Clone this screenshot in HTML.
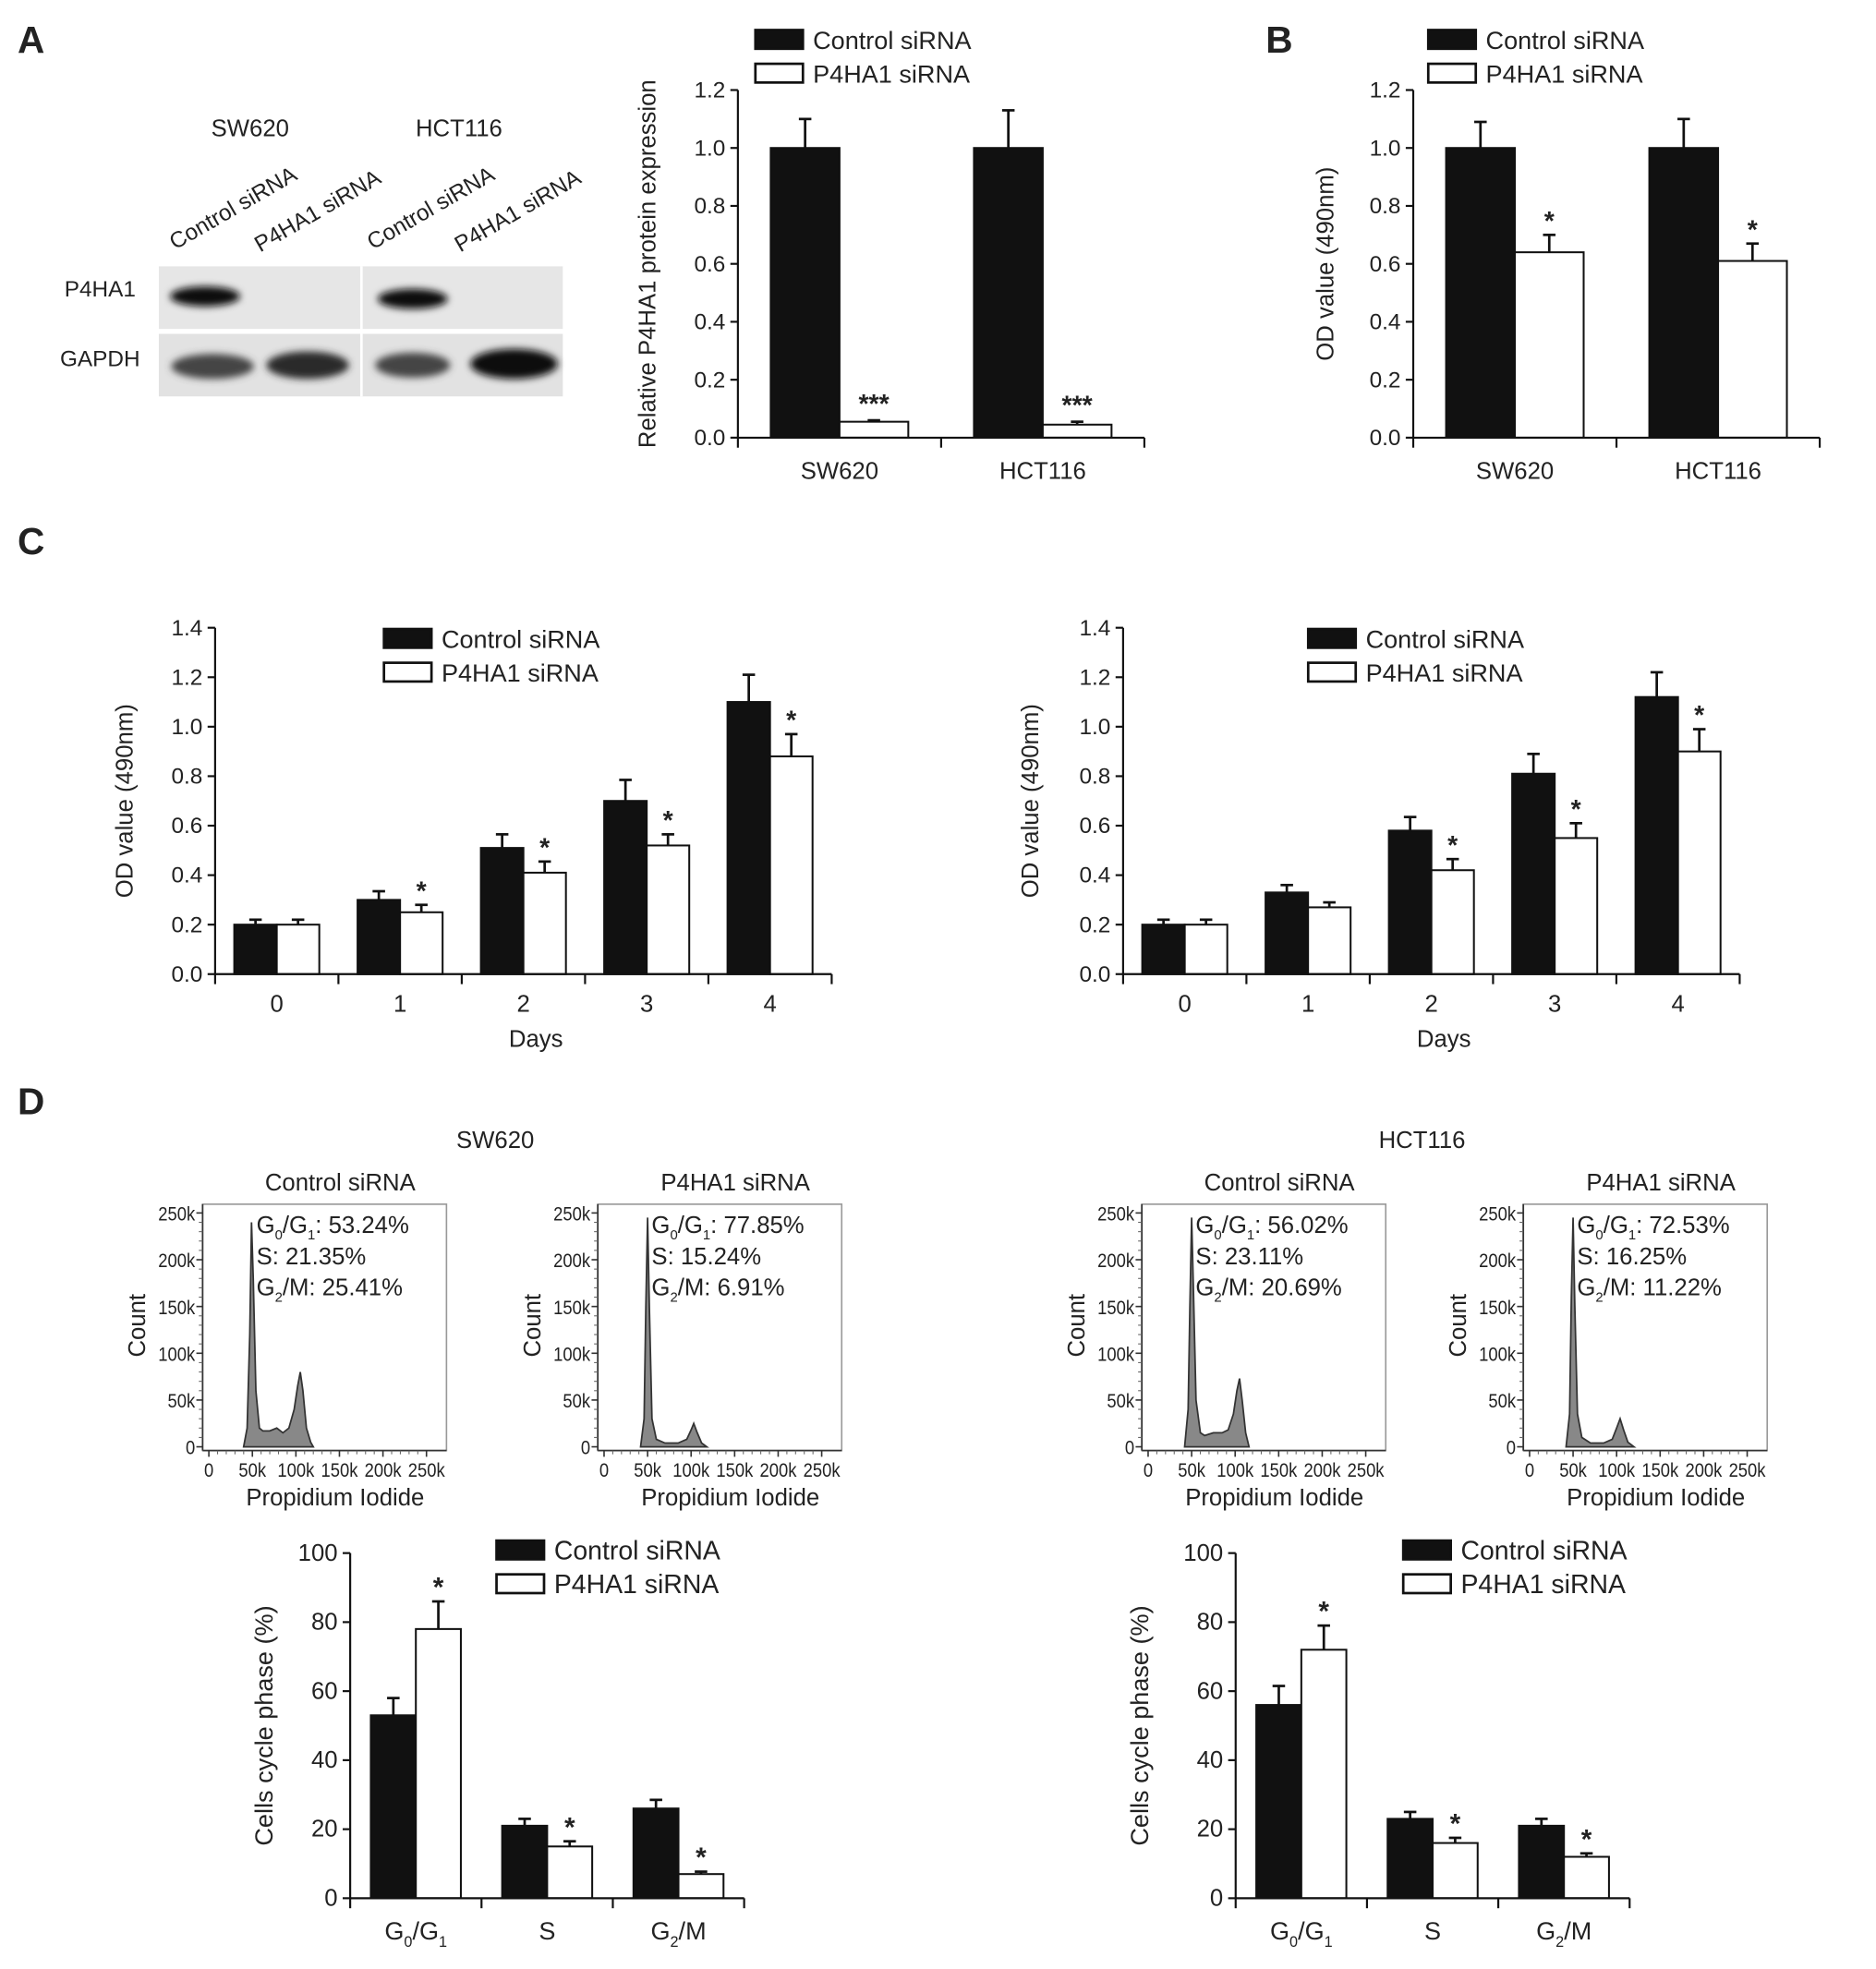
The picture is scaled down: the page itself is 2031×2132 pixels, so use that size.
<!DOCTYPE html>
<html><head><meta charset="utf-8">
<style>
html,body{margin:0;padding:0;background:#fff;}
svg{display:block;}
text{font-family:"Liberation Sans",Arial,sans-serif;fill:#222;}
</style></head>
<body>
<svg id="fig" width="2031" height="2132" viewBox="0 0 1500 1574.6" preserveAspectRatio="none" xmlns="http://www.w3.org/2000/svg">
<defs><filter id="blur" x="-30%" y="-60%" width="160%" height="220%"><feGaussianBlur stdDeviation="3"/></filter></defs>
<g>
<text x="14" y="42" font-size="30" font-weight="bold">A</text>
<text x="1012" y="42" font-size="30" font-weight="bold">B</text>
<text x="14" y="443" font-size="30" font-weight="bold">C</text>
<text x="14" y="891" font-size="30" font-weight="bold">D</text>
</g>
<g>
<text x="200" y="109" font-size="19" text-anchor="middle">SW620</text>
<text x="367" y="109" font-size="19" text-anchor="middle">HCT116</text>
<text transform="translate(140,200) rotate(-30)" font-size="18">Control siRNA</text>
<text transform="translate(208,202) rotate(-30)" font-size="18">P4HA1 siRNA</text>
<text transform="translate(298,200) rotate(-30)" font-size="18">Control siRNA</text>
<text transform="translate(368,202) rotate(-30)" font-size="18">P4HA1 siRNA</text>
<text x="80" y="237" font-size="18" text-anchor="middle">P4HA1</text>
<text x="80" y="293" font-size="18" text-anchor="middle">GAPDH</text>
<rect x="127" y="213" width="323" height="50" fill="#e6e6e6"/>
<rect x="127" y="267" width="323" height="50" fill="#e2e2e2"/>
<rect x="288" y="213" width="2" height="104" fill="#fff"/>
<g filter="url(#blur)">
<ellipse cx="164" cy="237" rx="28" ry="8" fill="#111"/>
<ellipse cx="330" cy="239" rx="28" ry="8" fill="#111"/>
<ellipse cx="170" cy="293" rx="33" ry="10" fill="#444"/>
<ellipse cx="246" cy="292" rx="33" ry="11" fill="#2a2a2a"/>
<ellipse cx="330" cy="292" rx="30" ry="10" fill="#444"/>
<ellipse cx="411" cy="291" rx="35" ry="12" fill="#111"/>
</g>
</g>
<g id="charts"></g>
</svg>
<script>
// Panel A chart
const aCats = ["SW620", "HCT116"];
const aCtrl = [1.0, 1.0];
const aCtrlErr = [0.10, 0.13];
const aSi = [0.055, 0.045];
const aSiErr = [0.005, 0.01];
const aSiStars = ["***", "***"];
const aTicks = ["0.0", "0.2", "0.4", "0.6", "0.8", "1.0", "1.2"];
// Panel B
const bCats = ["SW620", "HCT116"];
const bCtrl = [1.0, 1.0];
const bCtrlErr = [0.09, 0.10];
const bSi = [0.64, 0.61];
const bSiErr = [0.06, 0.06];
const bSiStars = ["*", "*"];
const bTicks = ["0.0", "0.2", "0.4", "0.6", "0.8", "1.0", "1.2"];
// Panel C
const cCats = ["0", "1", "2", "3", "4"];
const cTicks = ["0.0", "0.2", "0.4", "0.6", "0.8", "1.0", "1.2", "1.4"];
const c1Ctrl = [0.20, 0.30, 0.51, 0.70, 1.10];
const c1CtrlErr = [0.02, 0.035, 0.055, 0.085, 0.11];
const c1Si = [0.20, 0.25, 0.41, 0.52, 0.88];
const c1SiErr = [0.02, 0.03, 0.045, 0.045, 0.09];
const c1Stars = ["", "*", "*", "*", "*"];
const c2Ctrl = [0.20, 0.33, 0.58, 0.81, 1.12];
const c2CtrlErr = [0.02, 0.03, 0.055, 0.08, 0.10];
const c2Si = [0.20, 0.27, 0.42, 0.55, 0.90];
const c2SiErr = [0.02, 0.02, 0.045, 0.06, 0.09];
const c2Stars = ["", "", "*", "*", "*"];
// Panel D bars
const dCats = ["G0/G1", "S", "G2/M"];
const dTicks = ["0", "20", "40", "60", "80", "100"];
const d1Ctrl = [53, 21, 26];
const d1CtrlErr = [5, 2, 2.5];
const d1Si = [78, 15, 7];
const d1SiErr = [8, 1.5, 0.7];
const d1Stars = ["*", "*", "*"];
const d2Ctrl = [56, 23, 21];
const d2CtrlErr = [5.5, 2, 2];
const d2Si = [72, 16, 12];
const d2SiErr = [7, 1.5, 1];
const d2Stars = ["*", "*", "*"];
// Histograms (PI in k, count in k)
const h1PI = [40,44,47,49,51,54,58,62,70,78,85,92,98,102,105,108,112,117,120];
const h1Count = [0,20,120,240,180,60,20,17,17,20,15,20,40,65,80,60,20,5,0];
const h2PI = [42,46,48,50,52,55,60,70,85,95,100,103,107,112,118];
const h2Count = [0,30,150,245,150,30,8,4,4,8,18,25,15,4,0];
const h3PI = [42,46,48,50,52,55,60,65,75,85,92,98,102,105,108,112,116];
const h3Count = [0,40,150,245,170,50,15,12,15,15,18,35,60,73,50,15,0];
const h4PI = [42,46,48,50,52,55,60,70,85,95,100,104,108,113,120];
const h4Count = [0,35,160,245,150,35,10,4,4,8,20,30,18,5,0];
const hTicks = ["0","50k","100k","150k","200k","250k"];

const NS = "http://www.w3.org/2000/svg";
const root = document.getElementById("charts");
function mk(tag, attrs, parent, txt) {
  const e = document.createElementNS(NS, tag);
  for (const k in attrs) e.setAttribute(k, attrs[k]);
  if (txt !== undefined) e.textContent = txt;
  (parent || root).appendChild(e);
  return e;
}
function catLabel(g, x, y, s, fs) {
  const t = mk("text", {x: x, y: y, "font-size": fs, "text-anchor": "middle"}, g);
  if (s === "G0/G1") {
    t.appendChild(document.createTextNode("G"));
    mk("tspan", {dy: 6, "font-size": fs * 0.6}, t, "0");
    mk("tspan", {dy: -6}, t, "/G");
    mk("tspan", {dy: 6, "font-size": fs * 0.6}, t, "1");
  } else if (s === "G2/M") {
    t.appendChild(document.createTextNode("G"));
    mk("tspan", {dy: 6, "font-size": fs * 0.6}, t, "2");
    mk("tspan", {dy: -6}, t, "/M");
  } else t.textContent = s;
  return t;
}
function barChart(o) {
  const g = mk("g", {});
  
  
  const n = o.cats.length;
  const step = o.w / n;
  const yS = v => o.y0 - (v / o.max) * o.h;
  const xC = i => o.x0 + step * (i + 0.5);
  for (let i = 0; i < n; i++) {
    const c = xC(i);
    const sets = [[o.ctrl, o.ctrlErr, "#111", c - o.bw, "bar-control"], [o.si, o.siErr, "#fff", c, "bar-p4ha1"]];
    sets.forEach(s => {
      const v = s[0][i], e = s[1][i];
      const bx = s[3], cx = bx + o.bw / 2;
      const ln = mk("line", {x1: cx, x2: cx, y1: yS(v), y2: yS(v + e), stroke: "#111", "stroke-width": 2}, g);
      
      
      const cap = mk("line", {x1: cx - 5, x2: cx + 5, y1: yS(v + e), y2: yS(v + e), stroke: "#111", "stroke-width": 2}, g);
      
      
      const r = mk("rect", {x: bx, y: yS(v), width: o.bw, height: o.y0 - yS(v), fill: s[2], stroke: "#111", "stroke-width": 1.5}, g);
      
      
    });
    if (o.stars[i]) {
      const st = mk("text", {x: c + o.bw / 2, y: yS(o.si[i] + o.siErr[i]) - 4 + (o.starDy || 0), "font-size": o.fs + 2, "text-anchor": "middle", "font-weight": "bold"}, g, o.stars[i]);
      
      
    }
    const cl = catLabel(g, c, o.y0 + o.catDy, o.cats[i], o.fs);
    
    
  }
  const ya = mk("line", {x1: o.x0, x2: o.x0, y1: o.y0, y2: o.y0 - o.h, stroke: "#111", "stroke-width": 1.6}, g);
  
  
  const xa = mk("line", {x1: o.x0, x2: o.x0 + o.w, y1: o.y0, y2: o.y0, stroke: "#111", "stroke-width": 1.6}, g);
  
  
  for (let i = 0; i <= n; i++) {
    const x = o.x0 + step * i;
    mk("line", {x1: x, x2: x, y1: o.y0, y2: o.y0 + 8, stroke: "#111", "stroke-width": 1.6}, g);
  }
  o.ticks.forEach((t, i) => {
    const y = o.y0 - o.h * i / (o.ticks.length - 1);
    mk("line", {x1: o.x0 - 6, x2: o.x0, y1: y, y2: y, stroke: "#111", "stroke-width": 1.6}, g);
    const tl = mk("text", {x: o.x0 - 10, y: y + 6, "font-size": o.fs - 1, "text-anchor": "end"}, g, t);
    
    
  });
  const yt = mk("text", {transform: `translate(${o.ytx},${o.y0 - o.h / 2}) rotate(-90)`, "font-size": o.fs, "text-anchor": "middle"}, g, o.ytitle);
  
  
  if (o.xtitle) {
    const xt = mk("text", {x: o.x0 + o.w / 2 + 10, y: o.y0 + 58, "font-size": o.fs, "text-anchor": "middle"}, g, o.xtitle);
    
    
  }
  const lg = mk("g", {}, g);
  
  
  [["Control siRNA", "#111"], ["P4HA1 siRNA", "#fff"]].forEach((L, i) => {
    const yy = o.ly + i * 27;
    mk("rect", {x: o.lx, y: yy, width: 38, height: 15, fill: L[1], stroke: "#111", "stroke-width": 2}, lg);
    const lt = mk("text", {x: o.lx + 46, y: yy + 15, "font-size": o.fs + 1}, lg, L[0]);
    
    
  });
}
barChart({name: "chart-a-protein", cats: aCats, ctrl: aCtrl, ctrlErr: aCtrlErr, si: aSi, siErr: aSiErr, stars: aSiStars, ticks: aTicks,
  x0: 590, y0: 350, w: 325, h: 278, max: 1.2, bw: 55, fs: 19, catDy: 33, ytx: 524, ytitle: "Relative P4HA1 protein expression", lx: 604, ly: 24, starDy: -2});
barChart({name: "chart-b-od", cats: bCats, ctrl: bCtrl, ctrlErr: bCtrlErr, si: bSi, siErr: bSiErr, stars: bSiStars, ticks: bTicks,
  x0: 1130, y0: 350, w: 325, h: 278, max: 1.2, bw: 55, fs: 19, catDy: 33, ytx: 1066, ytitle: "OD value (490nm)", lx: 1142, ly: 24});
barChart({name: "chart-c-sw620", cats: cCats, ctrl: c1Ctrl, ctrlErr: c1CtrlErr, si: c1Si, siErr: c1SiErr, stars: c1Stars, ticks: cTicks,
  x0: 172, y0: 779, w: 493, h: 277, max: 1.4, bw: 34, fs: 19, catDy: 30, ytx: 106, ytitle: "OD value (490nm)", xtitle: "Days", lx: 307, ly: 503});
barChart({name: "chart-c-hct116", cats: cCats, ctrl: c2Ctrl, ctrlErr: c2CtrlErr, si: c2Si, siErr: c2SiErr, stars: c2Stars, ticks: cTicks,
  x0: 898, y0: 779, w: 493, h: 277, max: 1.4, bw: 34, fs: 19, catDy: 30, ytx: 830, ytitle: "OD value (490nm)", xtitle: "Days", lx: 1046, ly: 503});
barChart({name: "chart-d-sw620-phase", cats: dCats, ctrl: d1Ctrl, ctrlErr: d1CtrlErr, si: d1Si, siErr: d1SiErr, stars: d1Stars, ticks: dTicks,
  x0: 280, y0: 1518, w: 315, h: 276, max: 100, bw: 36, fs: 20, catDy: 33, ytx: 218, ytitle: "Cells cycle phase (%)", lx: 397, ly: 1232});
barChart({name: "chart-d-hct116-phase", cats: dCats, ctrl: d2Ctrl, ctrlErr: d2CtrlErr, si: d2Si, siErr: d2SiErr, stars: d2Stars, ticks: dTicks,
  x0: 988, y0: 1518, w: 315, h: 276, max: 100, bw: 36, fs: 20, catDy: 33, ytx: 918, ytitle: "Cells cycle phase (%)", lx: 1122, ly: 1232});

function hist(o) {
  const g = mk("g", {});
  
  
  const bx = o.bx, top = 963, bottom = 1160, x0 = bx + 5, y0 = 1157;
  const xS = v => x0 + v / 250 * 174;
  const yS = v => y0 - v / 250 * 187;
  const box = mk("rect", {x: bx, y: top, width: 195, height: bottom - top, fill: "none", stroke: "#999", "stroke-width": 1.2}, g);
  
  
  let d = "";
  o.pi.forEach((p, i) => { d += (i ? "L" : "M") + xS(p).toFixed(1) + "," + yS(o.count[i]).toFixed(1); });
  const path = mk("path", {d: d + "Z", fill: "#888", stroke: "#333", "stroke-width": 1.3}, g);
  
  
  mk("line", {x1: bx, x2: bx, y1: top, y2: bottom, stroke: "#333", "stroke-width": 1.3}, g);
  mk("line", {x1: bx, x2: bx + 195, y1: bottom, y2: bottom, stroke: "#333", "stroke-width": 1.3}, g);
  hTicks.forEach((t, i) => {
    const v = i * 50;
    mk("line", {x1: bx - 5, x2: bx, y1: yS(v), y2: yS(v), stroke: "#333", "stroke-width": 1.2}, g);
    mk("line", {x1: xS(v), x2: xS(v), y1: bottom, y2: bottom + 5, stroke: "#333", "stroke-width": 1.2}, g);
    const yl = mk("text", {x: bx - 6, y: yS(v) + 6, "font-size": 16, "text-anchor": "end", transform: `translate(${(bx - 6) * 0.15},0) scale(0.85,1)`}, g, t);
    
    
    const xl = mk("text", {x: xS(v), y: bottom + 21, "font-size": 16, "text-anchor": "middle", transform: `translate(${xS(v) * 0.15},0) scale(0.85,1)`}, g, t);
    
    
  });
  for (let v = 10; v < 250; v += 10) {
    if (v % 50 === 0) continue;
    mk("line", {x1: bx - 3, x2: bx, y1: yS(v), y2: yS(v), stroke: "#666", "stroke-width": 0.8}, g);
    mk("line", {x1: xS(v), x2: xS(v), y1: bottom, y2: bottom + 3, stroke: "#666", "stroke-width": 0.8}, g);
  }
  const tt = mk("text", {x: bx + 110, y: 952, "font-size": 19, "text-anchor": "middle"}, g, o.title);
  
  
  const ct = mk("text", {transform: `translate(${bx - 46},1060) rotate(-90)`, "font-size": 19, "text-anchor": "middle"}, g, "Count");
  
  
  const xt = mk("text", {x: bx + 106, y: 1204, "font-size": 19, "text-anchor": "middle"}, g, "Propidium Iodide");
  
  
  const tx = bx + 43;
  const a = mk("text", {x: tx, y: 986, "font-size": 19}, g);
  
  
  a.appendChild(document.createTextNode("G"));
  mk("tspan", {dy: 5, "font-size": 11}, a, "0");
  mk("tspan", {dy: -5}, a, "/G");
  mk("tspan", {dy: 5, "font-size": 11}, a, "1");
  mk("tspan", {dy: -5}, a, ": " + o.g1);
  const s = mk("text", {x: tx, y: 1011, "font-size": 19}, g, "S: " + o.s);
  
  
  const m = mk("text", {x: tx, y: 1036, "font-size": 19}, g);
  
  
  m.appendChild(document.createTextNode("G"));
  mk("tspan", {dy: 5, "font-size": 11}, m, "2");
  mk("tspan", {dy: -5}, m, "/M: " + o.g2);
}
hist({name: "histogram-sw620-control", bx: 162, pi: h1PI, count: h1Count, title: "Control siRNA", g1: "53.24%", s: "21.35%", g2: "25.41%"});
hist({name: "histogram-sw620-p4ha1", bx: 478, pi: h2PI, count: h2Count, title: "P4HA1 siRNA", g1: "77.85%", s: "15.24%", g2: "6.91%"});
hist({name: "histogram-hct116-control", bx: 913, pi: h3PI, count: h3Count, title: "Control siRNA", g1: "56.02%", s: "23.11%", g2: "20.69%"});
hist({name: "histogram-hct116-p4ha1", bx: 1218, pi: h4PI, count: h4Count, title: "P4HA1 siRNA", g1: "72.53%", s: "16.25%", g2: "11.22%"});
const t1 = mk("text", {x: 396, y: 918, "font-size": 19, "text-anchor": "middle"}, root, "SW620");


const t2 = mk("text", {x: 1137, y: 918, "font-size": 19, "text-anchor": "middle"}, root, "HCT116");


</script>
</body></html>
